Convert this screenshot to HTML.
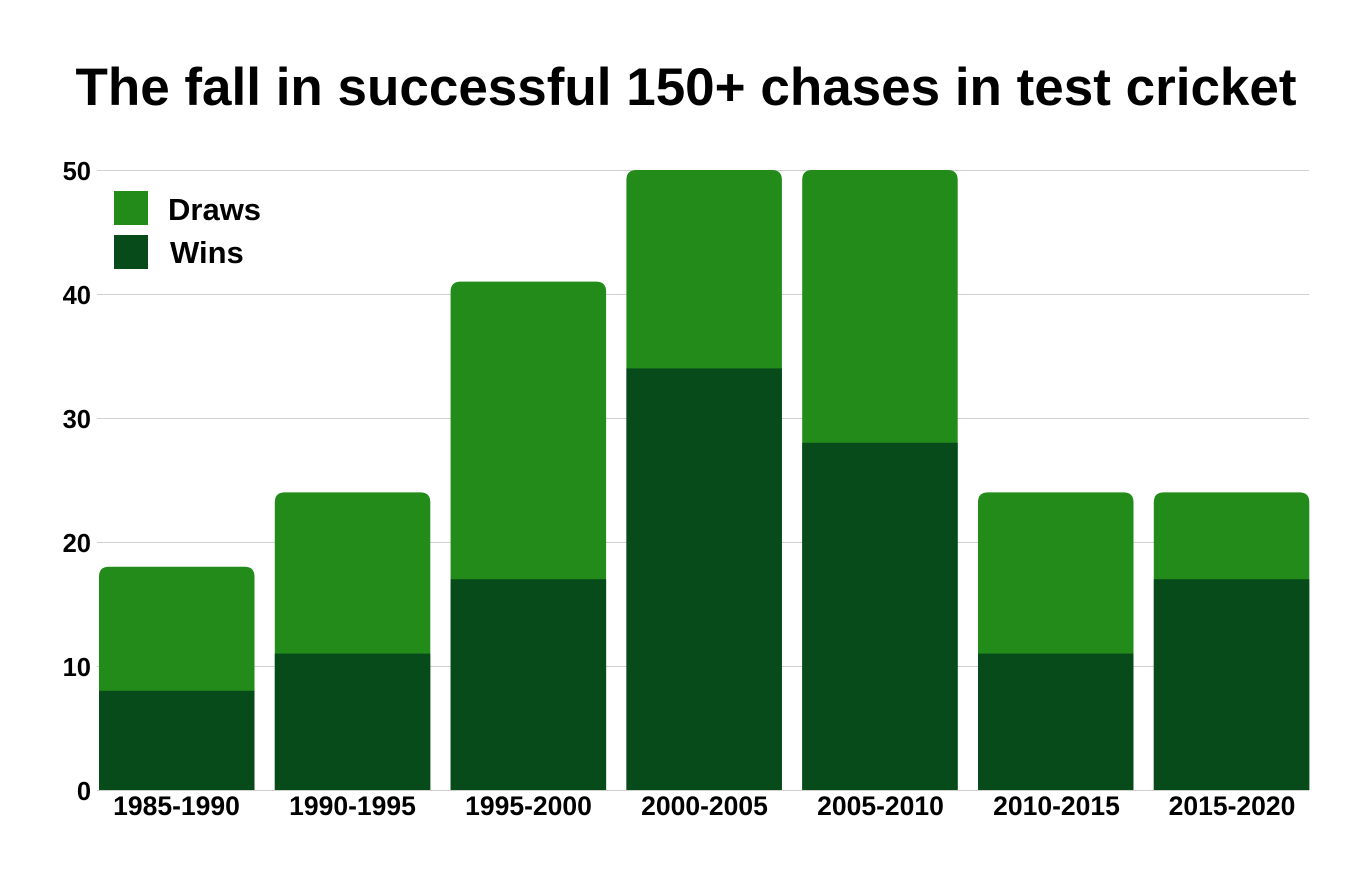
<!DOCTYPE html>
<html><head><meta charset="utf-8"><style>
html,body{margin:0;padding:0;background:#fff;}
svg{display:block;font-family:"Liberation Sans",Arial,sans-serif;font-weight:bold;}
</style></head><body>
<svg width="1368" height="884" viewBox="0 0 1368 884" xmlns="http://www.w3.org/2000/svg">
<rect width="1368" height="884" fill="#fff"/>
<text x="686" y="105" text-anchor="middle" font-size="53" fill="#000">The fall in successful 150+ chases in test cricket</text>
<g stroke="#d0d0d0" stroke-width="1">
<line x1="97" x2="1309" y1="170.5" y2="170.5"/>
<line x1="97" x2="1309" y1="294.5" y2="294.5"/>
<line x1="97" x2="1309" y1="418.5" y2="418.5"/>
<line x1="97" x2="1309" y1="542.5" y2="542.5"/>
<line x1="97" x2="1309" y1="666.5" y2="666.5"/>
<line x1="97" x2="1309" y1="790.5" y2="790.5"/>
</g>
<g font-size="25.5" text-anchor="end" fill="#000">
<text x="91" y="180">50</text>
<text x="91" y="304">40</text>
<text x="91" y="428">30</text>
<text x="91" y="552">20</text>
<text x="91" y="676">10</text>
<text x="91" y="800">0</text>
</g>
<g fill="#228B1A">
<path d="M99,790 L99,576.8 Q99,566.8 109,566.8 L244.5,566.8 Q254.5,566.8 254.5,576.8 L254.5,790 Z"/>
<path d="M274.8,790 L274.8,502.4 Q274.8,492.4 284.8,492.4 L420.3,492.4 Q430.3,492.4 430.3,502.4 L430.3,790 Z"/>
<path d="M450.6,790 L450.6,291.6 Q450.6,281.6 460.6,281.6 L596.1,281.6 Q606.1,281.6 606.1,291.6 L606.1,790 Z"/>
<path d="M626.4,790 L626.4,180 Q626.4,170 636.4,170 L771.9,170 Q781.9,170 781.9,180 L781.9,790 Z"/>
<path d="M802.2,790 L802.2,180 Q802.2,170 812.2,170 L947.7,170 Q957.7,170 957.7,180 L957.7,790 Z"/>
<path d="M978,790 L978,502.4 Q978,492.4 988,492.4 L1123.5,492.4 Q1133.5,492.4 1133.5,502.4 L1133.5,790 Z"/>
<path d="M1153.8,790 L1153.8,502.4 Q1153.8,492.4 1163.8,492.4 L1299.3,492.4 Q1309.3,492.4 1309.3,502.4 L1309.3,790 Z"/>
</g>
<g fill="#064B19">
<rect x="99" y="690.8" width="155.5" height="99.2"/>
<rect x="274.8" y="653.6" width="155.5" height="136.4"/>
<rect x="450.6" y="579.2" width="155.5" height="210.8"/>
<rect x="626.4" y="368.4" width="155.5" height="421.6"/>
<rect x="802.2" y="442.8" width="155.5" height="347.2"/>
<rect x="978" y="653.6" width="155.5" height="136.4"/>
<rect x="1153.8" y="579.2" width="155.5" height="210.8"/>
</g>
<g font-size="26.5" text-anchor="middle" fill="#000">
<text x="176.5" y="815">1985-1990</text>
<text x="352.5" y="815">1990-1995</text>
<text x="528.5" y="815">1995-2000</text>
<text x="704.5" y="815">2000-2005</text>
<text x="880.5" y="815">2005-2010</text>
<text x="1056.5" y="815">2010-2015</text>
<text x="1232" y="815">2015-2020</text>
</g>
<rect x="114" y="191" width="34" height="34" fill="#228B1A"/>
<rect x="114" y="235" width="34" height="34" fill="#064B19"/>
<text x="168" y="220" font-size="31" fill="#000">Draws</text>
<text x="170" y="263" font-size="31" fill="#000">Wins</text>
</svg>
</body></html>
